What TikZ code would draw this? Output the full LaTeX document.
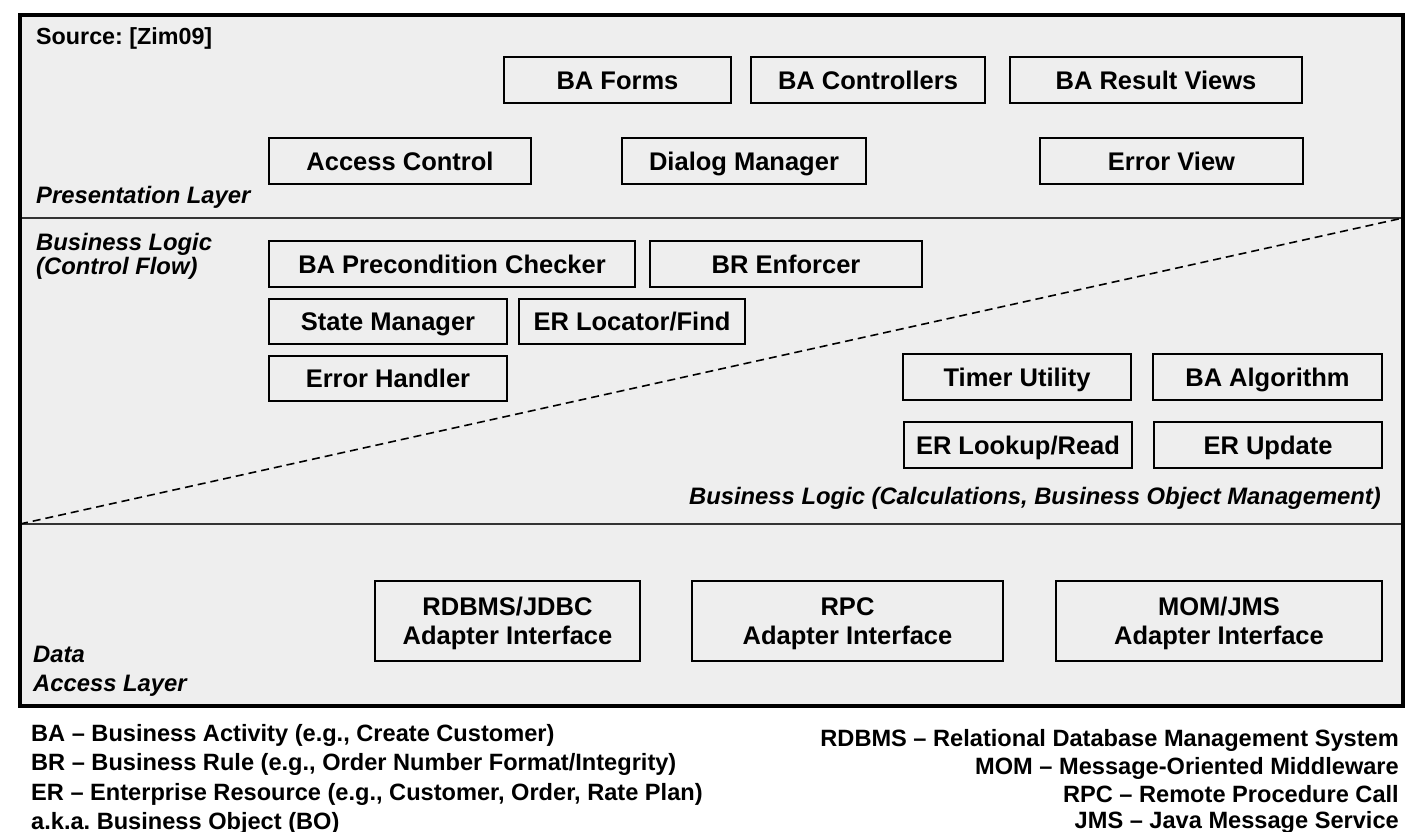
\documentclass[tikz,border=0pt]{standalone}
\usepackage{fontspec}
\setmainfont{Liberation Sans}
\usepackage{xcolor}
\usepackage{tikz}
\usetikzlibrary{calc}
\definecolor{panel}{HTML}{EEEEEE}
\definecolor{rule}{HTML}{333333}
\definecolor{ink}{HTML}{000000}
\frenchspacing
\tikzset{
  frame/.style={draw=ink, line width=4pt},
  sep/.style={draw=rule, line width=2pt},
  split/.style={draw=ink, line width=1.6pt, dash pattern=on 8pt off 5pt},
  comp/.style={draw=ink, line width=2pt, inner sep=0pt, minimum height=46pt,
    font=\fontsize{25.5}{29}\selectfont\bfseries, text height=18.3pt, text depth=0pt},
  comp2/.style={comp, align=center, text height=, minimum height=80pt},
  tag/.style={font=\fontsize{23.8}{26}\selectfont\bfseries\itshape, anchor=base west, inner sep=0pt},
  src/.style={font=\fontsize{23.3}{26}\selectfont\bfseries, anchor=base west, inner sep=0pt},
  note/.style={font=\fontsize{23.6}{28}\selectfont\bfseries, inner sep=0pt},
}

\begin{document}
\begin{tikzpicture}[x=1pt, y=-1pt]
  \useasboundingbox (0,0) rectangle (1414,832);
  % frame and layer borders
  \coordinate (NW) at (20,15);
  \coordinate (SE) at (1403,706);
  \coordinate (P1) at (20,218);
  \coordinate (P2) at (1403,218);
  \coordinate (D1) at (20,524);
  \coordinate (D2) at (1403,524);
  \fill[panel] (NW) rectangle (SE);
  \draw[sep] (P1) -- (P2);
  \draw[sep] (D1) -- (D2);
  \draw[split] (D1) -- (P2);
  \draw[frame] (NW) rectangle (SE);

  % presentation layer
  \node[src] (source) at (36,45) {Source: [Zim09]};
  \node[tag] (presl) at (36,204) {Presentation Layer};
  \node[comp, minimum width=227pt] (baforms) at (617.5,80.5) {BA Forms};
  \node[comp, minimum width=234pt] (bactrl) at (868,80.5) {BA Controllers};
  \node[comp, minimum width=292pt] (baviews) at (1156,80.5) {BA Result Views};
  \node[comp, minimum width=262pt] (access) at (400,161) {Access Control};
  \node[comp, minimum width=244pt] (dialog) at (744,161) {Dialog Manager};
  \node[comp, minimum width=263pt] (errview) at (1171.5,161) {Error View};

  % business logic
  \node[tag] (flowl) at (36,250) {Business Logic};
  \node[tag] (flowl2) at (36,274) {(Control Flow)};
  \node[comp, minimum width=366pt] (precond) at (452,264) {BA Precondition Checker};
  \node[comp, minimum width=272pt] (brenf) at (786,264) {BR Enforcer};
  \node[comp, minimum width=238pt, minimum height=45pt] (state) at (388,321.5) {State Manager};
  \node[comp, minimum width=226pt, minimum height=45pt] (locator) at (632,321.5) {ER Locator/Find};
  \node[comp, minimum width=238pt, minimum height=45pt] (errhandler) at (388,378.5) {Error Handler};
  \node[comp, minimum width=228pt] (timer) at (1017,377) {Timer Utility};
  \node[comp, minimum width=229pt] (algo) at (1267.5,377) {BA Algorithm};
  \node[comp, minimum width=228pt] (lookup) at (1018,445) {ER Lookup/Read};
  \node[comp, minimum width=228pt] (update) at (1268,445) {ER Update};
  \node[tag, anchor=base east] (calcl) at (1381,504) {Business Logic (Calculations, Business Object Management)};

  % data access layer
  \node[tag] (datal) at (33,662) {Data};
  \node[tag] (datal2) at (33,691) {Access Layer};
  \node[comp2, minimum width=265pt] (rdbms) at (507.5,621) {RDBMS/JDBC\\Adapter Interface};
  \node[comp2, minimum width=311pt] (rpc) at (847.5,621) {RPC\\Adapter Interface};
  \node[comp2, minimum width=326pt] (mom) at (1219,621) {MOM/JMS\\Adapter Interface};

  % legend
  \node[note, anchor=base west] (leg1) at (31,741) {BA -- Business Activity (e.g., Create Customer)};
  \node[note, anchor=base west] (leg2) at (31,770.5) {BR -- Business Rule (e.g., Order Number Format/Integrity)};
  \node[note, anchor=base west] (leg3) at (31,800) {ER -- Enterprise Resource (e.g., Customer, Order, Rate Plan)};
  \node[note, anchor=base west] (leg4) at (31,829) {a.k.a. Business Object (BO)};
  \node[note, anchor=base east] (leg5) at (1399,746) {RDBMS -- Relational Database Management System};
  \node[note, anchor=base east] (leg6) at (1399,774) {MOM -- Message-Oriented Middleware};
  \node[note, anchor=base east] (leg7) at (1399,802) {RPC -- Remote Procedure Call};
  \node[note, anchor=base east] (leg8) at (1399,828) {JMS -- Java Message Service};
\end{tikzpicture}
\end{document}
